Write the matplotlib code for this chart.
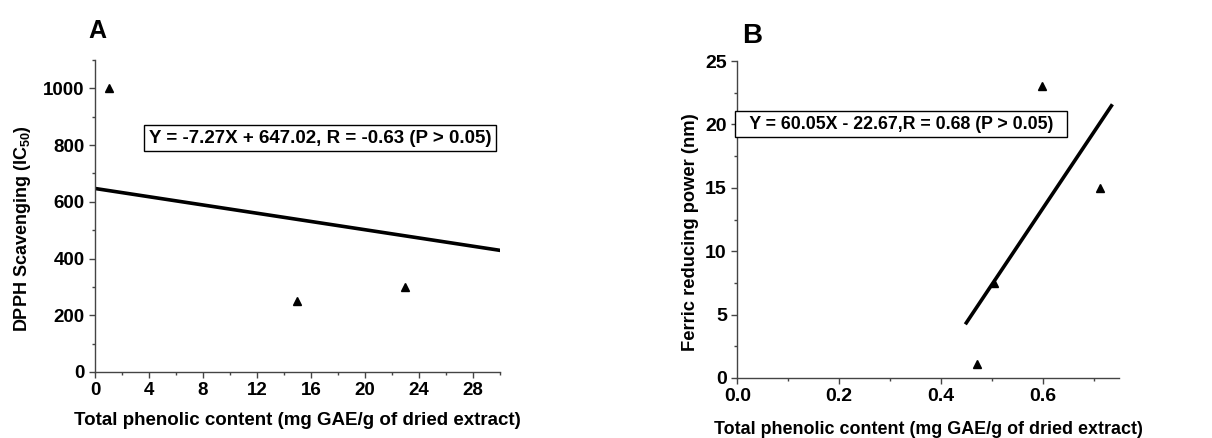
import matplotlib
matplotlib.use('Agg')
import matplotlib.pyplot as plt
from matplotlib.ticker import MultipleLocator

plt.rcParams['font.family'] = ['Liberation Sans', 'DejaVu Sans']
plt.rcParams['font.weight'] = 'bold'
plt.rcParams['mathtext.fontset'] = 'custom'
plt.rcParams['mathtext.rm'] = 'Liberation Sans:bold'
plt.rcParams['mathtext.bf'] = 'Liberation Sans:bold'
plt.rcParams['mathtext.default'] = 'bf'

# panel A: DPPH scavenging vs total phenolic content
a_x = [1, 15, 23]
a_y = [1000, 250, 300]
a_slope, a_icept = -7.27, 647.02
a_fit_x = [0, 30]
a_text = 'Y = -7.27X + 647.02, R = -0.63 (P > 0.05)'

# panel B: ferric reducing power vs total phenolic content
b_x = [0.47, 0.505, 0.598, 0.713]
b_y = [1.1, 7.5, 23.0, 15.0]
b_slope, b_icept = 60.05, -22.67
b_fit_x = [0.45, 0.735]
b_text = '  Y = 60.05X - 22.67,R = 0.68 (P > 0.05)  '

xlab = 'Total phenolic content (mg GAE/g of dried extract)'

fig = plt.figure(figsize=(12.12, 4.38), dpi=100)
axA = fig.add_axes([0.0784, 0.1507, 0.3341, 0.7123])
axB = fig.add_axes([0.6083, 0.137, 0.315, 0.7237])


def style(ax, fs):
    for s in ['top', 'right']:
        ax.spines[s].set_visible(False)
    for s in ['left', 'bottom']:
        ax.spines[s].set_color('#444444')
        ax.spines[s].set_linewidth(1.0)
    ax.tick_params(which='major', direction='out', length=4, width=1,
                   color='#444444', labelsize=fs)
    ax.tick_params(which='minor', direction='out', length=2.5, width=1,
                   color='#444444')
    for lab in ax.get_xticklabels() + ax.get_yticklabels():
        lab.set_fontweight('bold')


# --- A
axA.plot(a_x, a_y, '^', color='black', markersize=6)
axA.plot(a_fit_x, [a_slope * v + a_icept for v in a_fit_x], color='black', lw=2.6)
axA.set_xlim(0, 30)
axA.set_ylim(0, 1100)
axA.xaxis.set_major_locator(MultipleLocator(4))
axA.xaxis.set_minor_locator(MultipleLocator(2))
axA.yaxis.set_major_locator(MultipleLocator(200))
axA.yaxis.set_minor_locator(MultipleLocator(100))
style(axA, 13.5)
axA.set_xlabel(xlab, fontsize=13.5, fontweight='bold')
axA.xaxis.set_label_coords(0.5, -0.157)
axA.xaxis.label.set_va('center')
axA.set_ylabel('DPPH Scavenging (IC$_{50}$)', fontsize=13, fontweight='bold')
axA.yaxis.set_label_coords(-0.178, 0.46)
axA.yaxis.label.set_va('center')
axA.text(16.7, 825, a_text, fontsize=13.5, fontweight='bold', ha='center', va='center',
         bbox=dict(boxstyle='square,pad=0.25', fc='white', ec='black', lw=1))
fig.text(0.0726, 0.929, 'A', fontsize=18, fontweight='bold', va='center')

# --- B
axB.plot(b_x, b_y, '^', color='black', markersize=6)
axB.plot(b_fit_x, [b_slope * v + b_icept for v in b_fit_x], color='black', lw=2.6)
axB.set_xlim(0, 0.75)
axB.set_ylim(0, 25)
axB.xaxis.set_major_locator(MultipleLocator(0.2))
axB.xaxis.set_minor_locator(MultipleLocator(0.1))
axB.yaxis.set_major_locator(MultipleLocator(5))
axB.yaxis.set_minor_locator(MultipleLocator(2.5))
style(axB, 14)
axB.set_xlabel(xlab, fontsize=12.9, fontweight='bold')
axB.xaxis.set_label_coords(0.5, -0.164)
axB.xaxis.label.set_va('center')
axB.set_ylabel('Ferric reducing power (nm)', fontsize=13.2, fontweight='bold')
axB.yaxis.set_label_coords(-0.123, 0.46)
axB.yaxis.label.set_va('center')
axB.text(0.322, 20.03, b_text, fontsize=12.8, fontweight='bold', ha='center', va='center',
         bbox=dict(boxstyle='square,pad=0.25', fc='white', ec='black', lw=1), zorder=5)
fig.text(0.612, 0.918, 'B', fontsize=20, fontweight='bold', va='center')

fig.savefig('out.png', dpi=100)
